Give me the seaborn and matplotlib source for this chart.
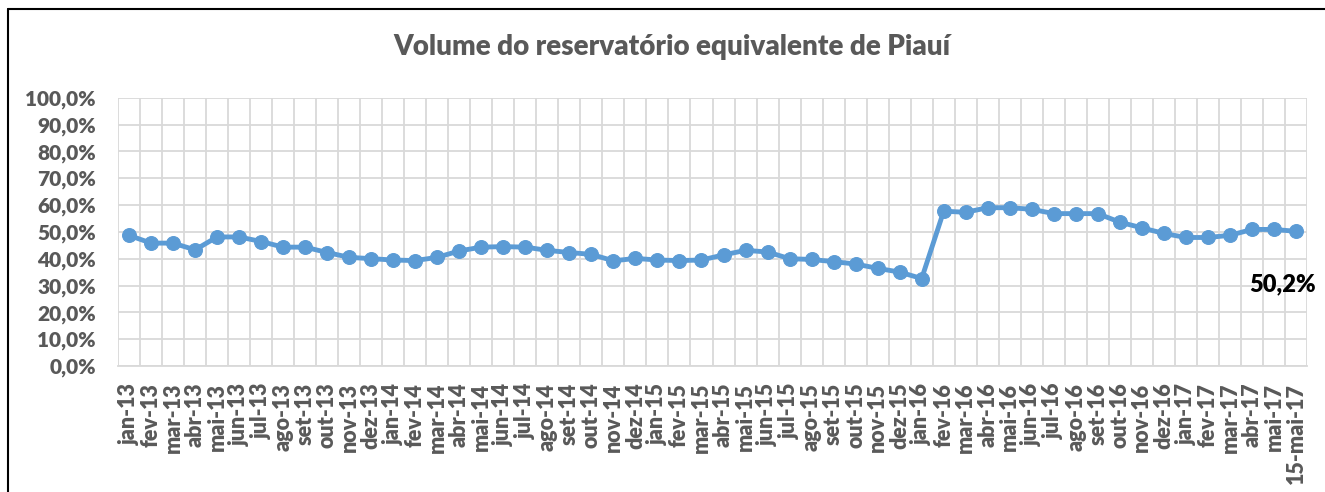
import pandas as pd
import matplotlib.pyplot as plt
import matplotlib.lines as mlines
from matplotlib.ticker import FuncFormatter, MultipleLocator
import seaborn as sns

# meses (jan-13 .. mai-17) + leitura de 15-mai-17
months = ['jan-13', 'fev-13', 'mar-13', 'abr-13', 'mai-13', 'jun-13', 'jul-13', 'ago-13', 'set-13', 'out-13', 'nov-13', 'dez-13',
          'jan-14', 'fev-14', 'mar-14', 'abr-14', 'mai-14', 'jun-14', 'jul-14', 'ago-14', 'set-14', 'out-14', 'nov-14', 'dez-14',
          'jan-15', 'fev-15', 'mar-15', 'abr-15', 'mai-15', 'jun-15', 'jul-15', 'ago-15', 'set-15', 'out-15', 'nov-15', 'dez-15',
          'jan-16', 'fev-16', 'mar-16', 'abr-16', 'mai-16', 'jun-16', 'jul-16', 'ago-16', 'set-16', 'out-16', 'nov-16', 'dez-16',
          'jan-17', 'fev-17', 'mar-17', 'abr-17', 'mai-17', '15-mai-17']

volume = [48.7, 45.8, 45.8, 43.3, 48.1, 48.1, 46.4, 44.3, 44.3, 42.3, 40.5, 40.0,
          39.5, 39.3, 40.5, 42.9, 44.3, 44.5, 44.3, 43.1, 42.3, 41.6, 39.2, 40.1,
          39.5, 39.3, 39.5, 41.4, 43.1, 42.5, 40.0, 39.7, 38.9, 38.0, 36.4, 35.0,
          32.6, 57.7, 57.3, 59.0, 59.0, 58.4, 56.8, 56.8, 56.8, 53.6, 51.5, 49.4,
          47.9, 47.9, 48.7, 50.9, 50.9, 50.2]

last_label = '50,2%'
title = 'Volume do reservatório equivalente de Piauí'

blue = '#5B9BD5'
gray_txt = '#595959'
grid_col = '#D9D9D9'

sns.set_style('white')
plt.rcParams['font.family'] = ['Lato', 'DejaVu Sans']
plt.rcParams['font.weight'] = 'heavy'

df = pd.DataFrame({'pos': range(len(months)), 'mes': months, 'volume': volume})

fig = plt.figure(figsize=(13.25, 4.92), dpi=100)
ax = fig.add_axes([118 / 1325, 1 - 366 / 492, (1307 - 118) / 1325, (366 - 97.7) / 492])

sns.lineplot(data=df, x='pos', y='volume', ax=ax, color=blue, linewidth=3.5,
             marker='o', markersize=10, markeredgecolor=blue, markerfacecolor=blue, zorder=3)

ax.set_xlim(-0.5, len(months) - 0.5)
ax.set_ylim(0, 100)
ax.yaxis.set_major_locator(MultipleLocator(10))
ax.yaxis.set_major_formatter(FuncFormatter(lambda v, p: f'{v:.1f}%'.replace('.', ',')))
ax.set_xticks(df['pos'])
ax.set_xticklabels(months, rotation=90)
ax.set_xticks([i - 0.5 for i in range(len(months) + 1)], minor=True)

ax.grid(False)
ax.grid(True, axis='y', which='major', color=grid_col, linewidth=1.3)
ax.grid(True, axis='x', which='minor', color=grid_col, linewidth=1.3)
for s in ['top', 'right', 'left']:
    ax.spines[s].set_visible(False)
ax.spines['bottom'].set_color(grid_col)
ax.spines['bottom'].set_linewidth(1.3)

ax.tick_params(axis='x', which='major', direction='in', length=4, color=grid_col, width=1,
               labelsize=15.5, labelcolor=gray_txt, pad=12)
ax.tick_params(axis='x', which='minor', length=0)
ax.tick_params(axis='y', length=0, labelsize=15, labelcolor=gray_txt, pad=16)
ax.set_xlabel('')
ax.set_ylabel('')

ax.annotate(last_label, xy=(df['pos'].iloc[-1], volume[-1]), xytext=(-13, -53),
            textcoords='offset pixels', ha='center', va='center',
            fontsize=17, fontweight='heavy', color='black')

fig.text(672 / 1325, 1 - 47 / 492, title, ha='center', va='center',
         fontsize=20, fontweight='heavy', color=gray_txt)

# moldura do gráfico (topo e esquerda)
fig.add_artist(mlines.Line2D([8 / 1325, 1], [1 - 9 / 492, 1 - 9 / 492], color='black', linewidth=1.5))
fig.add_artist(mlines.Line2D([8 / 1325, 8 / 1325], [0, 1 - 9 / 492], color='black', linewidth=1.5))

fig.savefig('out.png', dpi=100)
